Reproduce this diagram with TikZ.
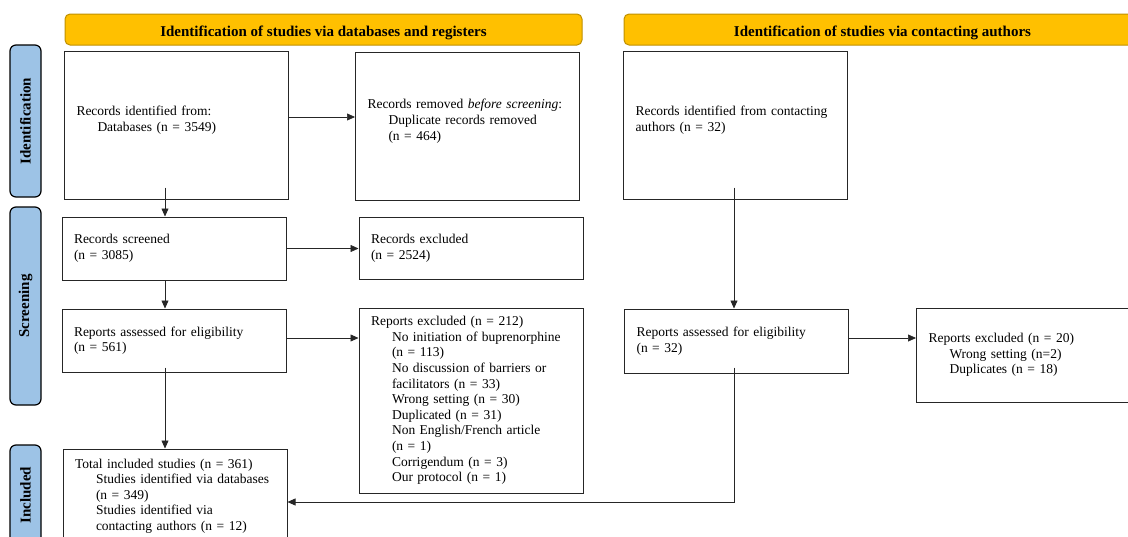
\documentclass[tikz,border=0pt]{standalone}
\usepackage{fontspec}
\setmainfont{Liberation Serif}
\usetikzlibrary{arrows.meta}

\definecolor{headgold}{HTML}{FFC000}
\definecolor{headedge}{HTML}{BF9000}
\definecolor{stageblue}{HTML}{9DC3E6}

\newcommand{\subind}{\hspace*{21pt}}

\tikzset{
  box/.style={draw=black!85, line width=1pt, minimum width=224pt, text width=200pt,
    inner xsep=12pt, align=left, font=\fontsize{13.5}{15.6}\selectfont},
  head/.style={draw=headedge, fill=headgold, line width=1pt, rounded corners=5pt,
    minimum width=517pt, minimum height=31pt, text height=13pt, text depth=0pt,
    font=\fontsize{15}{18}\selectfont\bfseries},
  stage/.style={draw=black, fill=stageblue, line width=1.2pt, rounded corners=6pt,
    rotate=90, minimum height=31pt, font=\fontsize{15}{18}\selectfont\bfseries},
  arr/.style={-{Triangle[length=8pt,width=7pt]}, line width=0.6pt, draw=black!85}
}

\begin{document}
\begin{tikzpicture}[x=1pt, y=-1pt]
        \path[use as bounding box, clip] (0,0) rectangle (1128,536);

        % Headers
        \node[head] (dbhead) at (323.5,29.5) {Identification of studies via databases and registers};
        \node[head] (authhead) at (882.5,29.5) {Identification of studies via contacting authors};

        % Stages
        \node[stage, minimum width=152pt] (identstage) at (25.5,121) {Identification};
        \node[stage, minimum width=198pt] (screenstage) at (25.5,306) {Screening};
        \node[stage, minimum width=100pt] (inclstage) at (25.5,495) {Included};

        % Boxes
        \node[box, minimum height=148pt] (recid) at (176.5,125)
          {Records identified from:\\\subind Databases (n = 3549)\\[-3pt]\mbox{}};
        \node[box, minimum height=148pt] (removed) at (467.5,126)
          {Records removed \textit{before screening}:\\\subind Duplicate records removed\\\subind (n = 464)\\[-3pt]\mbox{}};
        \node[box, minimum height=148pt] (recauth) at (735.5,125)
          {Records identified from contacting\\authors (n = 32)\\[-3pt]\mbox{}};
        \node[box, minimum height=63pt] (screened) at (174,248.5) {Records screened\\(n = 3085)};
        \node[box, minimum height=62pt] (recexcl) at (471,248) {Records excluded\\(n = 2524)};
        \node[box, minimum height=63pt] (assessdb) at (174,340.5) {Reports assessed for eligibility\\(n = 561)};
        \node[box, minimum height=185pt] (repexcldb) at (471,400.5)
          {Reports excluded (n = 212)\\
           \subind No initiation of buprenorphine\\
           \subind (n = 113)\\
           \subind No discussion of barriers or\\
           \subind facilitators (n = 33)\\
           \subind Wrong setting (n = 30)\\
           \subind Duplicated (n = 31)\\
           \subind Non English/French article\\
           \subind (n = 1)\\
           \subind Corrigendum (n = 3)\\
           \subind Our protocol (n = 1)};
        \node[box, minimum height=94pt] (included) at (175,496)
          {Total included studies (n = 361)\\
           \subind Studies identified via databases\\
           \subind (n = 349)\\
           \subind Studies identified via\\
           \subind contacting authors (n = 12)};
        \node[box, minimum height=64pt] (assessauth) at (736.5,341) {Reports assessed for eligibility\\(n = 32)};
        \node[box, minimum height=94pt] (repexclauth) at (1028.5,355)
          {Reports excluded (n = 20)\\
           \subind Wrong setting (n=2)\\
           \subind Duplicates (n = 18)};

        % Horizontal arrows
        \coordinate (ab) at ([yshift=8pt]recid.east);
        \draw[arr] (ab) -- (ab -| removed.west);
        \draw[arr] (screened.east) -- (screened.east -| recexcl.west);
        \coordinate (fg) at ([yshift=2.5pt]assessdb.east);
        \draw[arr] (fg) -- (fg -| repexcldb.west);
        \coordinate (ij) at ([yshift=3pt]assessauth.east);
        \draw[arr] (ij) -- (ij -| repexclauth.west);

        % Vertical arrows
        \coordinate (ad) at ([xshift=-11.5pt,yshift=12pt]recid.south);
        \draw[arr] (ad) -- (ad |- screened.north);
        \coordinate (df) at ([xshift=-9pt]screened.south);
        \draw[arr] (df) -- (df |- assessdb.north);
        \coordinate (fh) at ([xshift=-9pt,yshift=5pt]assessdb.south);
        \draw[arr] (fh) -- (fh |- included.north);
        \coordinate (ci) at ([xshift=-1.5pt,yshift=12pt]recauth.south);
        \draw[arr] (ci) -- (ci |- assessauth.north);

        % Authors' studies joining the total
        \coordinate (ih) at ([xshift=-2.5pt,yshift=6pt]assessauth.south);
        \draw[arr] (ih) |- ([yshift=-6pt]included.east);
    \end{tikzpicture}
\end{document}
